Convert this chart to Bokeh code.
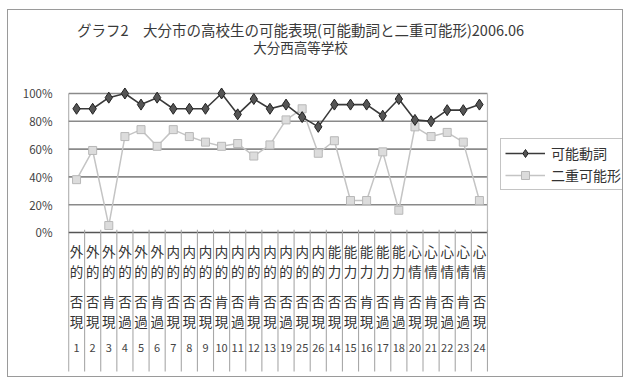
from bokeh.plotting import figure
from bokeh.models import Range1d, FixedTicker, Legend, LegendItem, ColumnDataSource
from bokeh.core.properties import value
from bokeh.embed import file_html
from bokeh.resources import INLINE

# ---- data ----
groups = ["外的"] * 6 + ["内的"] * 10 + ["能力"] * 5 + ["心情"] * 5
polarity = ["否", "否", "肯", "否", "否", "肯",
            "否", "否", "否", "肯", "否", "肯", "否", "否", "否", "否",
            "否", "否", "肯", "否", "肯",
            "否", "肯", "否", "肯", "否"]
tense = ["現", "現", "現", "過", "過", "過",
         "現", "現", "現", "現", "過", "現", "現", "過", "現", "現",
         "現", "現", "現", "過", "過",
         "現", "現", "過", "過", "現"]
numbers = ["1", "2", "3", "4", "5", "6", "7", "8", "9", "10", "11", "12", "13",
           "19", "25", "26", "14", "15", "16", "17", "18", "20", "21", "22", "23", "24"]
kanou_doushi = [89, 89, 97, 100, 92, 97, 89, 89, 89, 100, 85, 96, 89,
                92, 83, 76, 92, 92, 92, 84, 96, 81, 80, 88, 88, 92]
nijuu_kanou = [38, 59, 5, 69, 74, 62, 74, 69, 65, 62, 64, 55, 63,
               81, 89, 57, 66, 23, 23, 58, 16, 76, 69, 72, 65, 23]
y_ticks = [0, 20, 40, 60, 80, 100]
series_names = ["可能動詞", "二重可能形"]
title_lines = ["グラフ2　大分市の高校生の可能表現(可能動詞と二重可能形)2006.06",
               "大分西高等学校"]

FONT = "Noto Sans CJK JP"
xs = list(range(1, len(numbers) + 1))
left_edge = xs[0] - 0.5
right_edge = xs[-1] + 0.5

p = figure(width=614, height=366,
           x_range=Range1d(0.5, 34.88), y_range=Range1d(-103.6, 159.7),
           output_backend="svg", toolbar_location=None,
           min_border_left=60, min_border_right=0,
           min_border_top=0, min_border_bottom=0)
p.styles = {"margin-left": "8px", "margin-top": "10px",
            "outline": "1px solid #9a9a9a"}
p.background_fill_color = "white"
p.border_fill_color = "white"
p.outline_line_color = None
p.xaxis.visible = False
p.xgrid.visible = False
p.ygrid.visible = False

ax = p.yaxis[0]
ax.ticker = FixedTicker(ticks=y_ticks)
ax.major_label_overrides = {t: f"{t}%" for t in y_ticks}
ax.axis_line_color = None
ax.major_tick_line_color = None
ax.minor_tick_line_color = None
ax.major_label_standoff = 10
ax.major_label_text_font = FONT
ax.major_label_text_font_size = "11.5px"
ax.major_label_text_color = "#444444"

# horizontal gridlines
grid_ticks = [t for t in y_ticks if t > 0]
p.segment(x0=[left_edge] * len(grid_ticks), x1=[right_edge] * len(grid_ticks),
          y0=grid_ticks, y1=grid_ticks, line_color="#8a8a8a", line_width=1.6)
# axis line at 0
p.segment(x0=[left_edge], x1=[right_edge], y0=[0], y1=[0],
          line_color="#555555", line_width=1.6)
# left and right frame lines
p.segment(x0=[left_edge], x1=[left_edge], y0=[-100], y1=[100],
          line_color="#777777", line_width=1.3)
p.segment(x0=[right_edge], x1=[right_edge], y0=[0], y1=[100],
          line_color="#bbbbbb", line_width=1.2)
# category separators in the label area
bounds = [x + 0.5 for x in xs]
p.segment(x0=bounds, x1=bounds, y0=[2] * len(bounds), y1=[-100] * len(bounds),
          line_color="#a8a8a8", line_width=1.1)

# category labels (vertical stacks)
row_chars = [[g[0] for g in groups], [g[1] for g in groups], polarity, tense]
row_y = [-13.5, -28, -49, -64]
for chars, yy in zip(row_chars, row_y):
    p.text(x=xs, y=[yy] * len(xs), text=chars, text_font=value(FONT),
           text_font_size="13.5px", text_color="#333333",
           text_align="center", text_baseline="middle")
p.text(x=xs, y=[-83] * len(xs), text=numbers, text_font=value(FONT),
       text_font_size="11px", text_color="#444444",
       text_align="center", text_baseline="middle")

# series
src = ColumnDataSource(dict(x=xs, a=kanou_doushi, b=nijuu_kanou))
l2 = p.line("x", "b", source=src, line_color="#c4c4c4", line_width=1.5)
m2 = p.scatter("x", "b", source=src, marker="square", size=8,
               fill_color="#dcdcdc", line_color="#b8b8b8", line_width=1)
l1 = p.line("x", "a", source=src, line_color="#3a3a3a", line_width=1.6)
m1 = p.scatter("x", "a", source=src, marker="diamond", size=11,
               fill_color="#555555", line_color="#222222", line_width=1)

# title
p.text(x=[14.9, 14.9], y=[145.8, 133.5], text=title_lines, text_font=value(FONT),
       text_font_size=["14.5px", "13.5px"], text_color="#3a3a3a",
       text_align="center", text_baseline="middle")

legend = Legend(items=[LegendItem(label=series_names[0], renderers=[l1, m1]),
                       LegendItem(label=series_names[1], renderers=[l2, m2])],
                location=(432, 186))
legend.border_line_color = "#8a8a8a"
legend.border_line_width = 1.2
legend.label_text_font = FONT
legend.label_text_font_size = "14px"
legend.label_text_color = "#333333"
legend.glyph_width = 40
legend.label_standoff = 6
legend.padding = 4
legend.spacing = 2
legend.margin = 0
p.add_layout(legend, "center")

open("out.html", "w").write(file_html(p, INLINE))
